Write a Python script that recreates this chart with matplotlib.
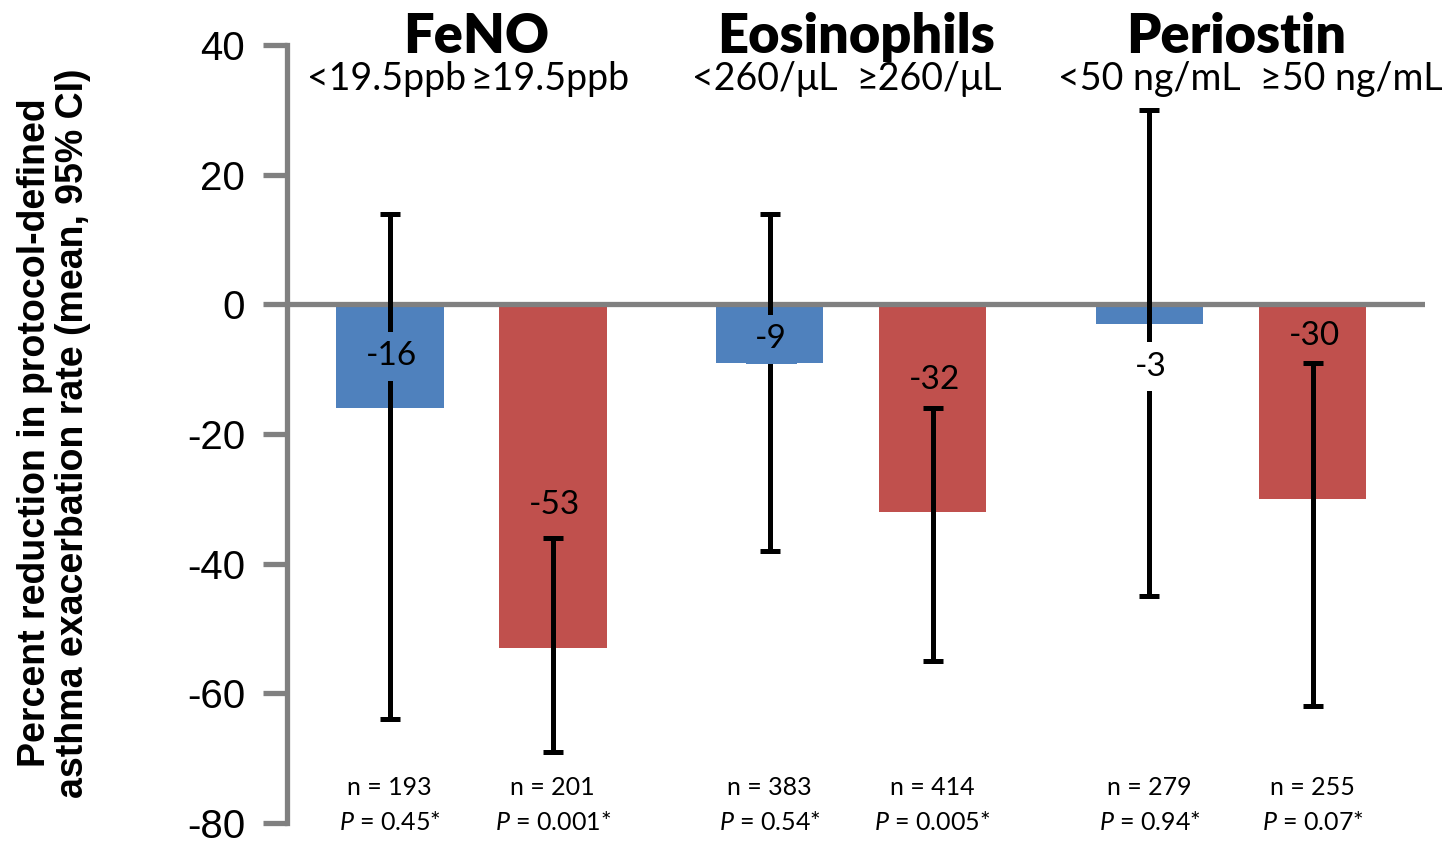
import matplotlib
matplotlib.use('Agg')
import matplotlib.pyplot as plt
import matplotlib.transforms as mtransforms
from matplotlib import font_manager

# subgroup results: mean reduction and 95% CI bounds
groups = ['FeNO', 'Eosinophils', 'Periostin']
subgroups = ['<19.5ppb', '≥19.5ppb', '<260/μL', '≥260/μL', '<50 ng/mL', '≥50 ng/mL']
means = [-16, -53, -9, -32, -3, -30]
ci_upper = [14, -36, 14, -16, 30, -9]
ci_lower = [-64, -69, -38, -55, -45, -62]
n_values = [193, 201, 383, 414, 279, 255]
p_values = ['0.45', '0.001', '0.54', '0.005', '0.94', '0.07']

blue = '#4F81BD'
red = '#C0504D'
colors = [blue, red, blue, red, blue, red]

# bar positions (pairs separated by a wider gap)
xpos = [1, 2, 3.33, 4.33, 5.66, 6.66]
label_y = [-8, -31, -5.4, -11.7, -9.6, -4.9]
sub_dx = [-0.02, -0.02, -0.03, -0.02, 0.0, 0.24]

names = {f.name for f in font_manager.fontManager.ttflist}
sans = 'Lato' if 'Lato' in names else 'DejaVu Sans'
narrow = 'Liberation Sans Narrow' if 'Liberation Sans Narrow' in names else 'Liberation Sans'

plt.rcParams['font.family'] = [sans, 'DejaVu Sans']
plt.rcParams['axes.unicode_minus'] = False
plt.rcParams['mathtext.fontset'] = 'custom'
plt.rcParams['mathtext.it'] = sans + ':italic'
plt.rcParams['mathtext.rm'] = sans

fig = plt.figure(figsize=(14.56, 8.41), dpi=100)
ax = fig.add_axes([287 / 1456, 18 / 841, 1138 / 1456, 778 / 841])

gray = '#808080'
ax.bar(xpos, means, width=0.66, color=colors, zorder=1)
yerr = [[m - lo for m, lo in zip(means, ci_lower)], [hi - m for m, hi in zip(means, ci_upper)]]
ax.errorbar(xpos, means, yerr=yerr, fmt='none', ecolor='black', elinewidth=3.6,
            capsize=7.5, capthick=3.6, zorder=2)
ax.axhline(0, color=gray, lw=3.8, zorder=1.5)

for x, m, ly, c in zip(xpos, means, label_y, colors):
    face = c if ly > m else 'white'
    ax.text(x + 0.01, ly, str(m), ha='center', va='center', fontsize=24, zorder=3,
            bbox=dict(facecolor=face, edgecolor='none', pad=7))

ax.set_xlim(0.37, 7.35)
ax.set_ylim(-80, 40)
ax.set_yticks(range(-80, 41, 20))
ax.set_xticks([])
for side in ['top', 'right', 'bottom']:
    ax.spines[side].set_visible(False)
ax.spines['left'].set_color(gray)
ax.spines['left'].set_linewidth(3.8)
ax.tick_params(axis='y', direction='out', length=17, width=3.8, color=gray,
               labelsize=29, pad=13)
for lab in ax.get_yticklabels():
    lab.set_family('Liberation Sans')

trans = mtransforms.blended_transform_factory(ax.transData, fig.transFigure)
for i, g in enumerate(groups):
    cx = (xpos[2 * i] + xpos[2 * i + 1]) / 2
    fig.text(cx + 0.03, 1 - 53 / 841, g, transform=trans, ha='center', va='baseline',
             fontsize=39, fontweight='heavy')
for x, s, dx in zip(xpos, subgroups, sub_dx):
    fig.text(x + dx, 1 - 90 / 841, s, transform=trans, ha='center', va='baseline',
             fontsize=27)

for x, n, p in zip(xpos, n_values, p_values):
    fig.text(x, 1 - 795 / 841, 'n = %d' % n, transform=trans, ha='center',
             va='baseline', fontsize=18)
    fig.text(x, 1 - 830 / 841, r'$\it{P}$ = %s*' % p, transform=trans, ha='center',
             va='baseline', fontsize=18)

fig.text(0.037, 1 - 433 / 841,
         'Percent reduction in protocol-defined\nasthma exacerbation rate (mean, 95% CI)',
         rotation=90, ha='center', va='center', multialignment='center',
         fontsize=27, fontweight='bold', family=narrow, linespacing=1.08)

fig.savefig('out.png', dpi=100)
